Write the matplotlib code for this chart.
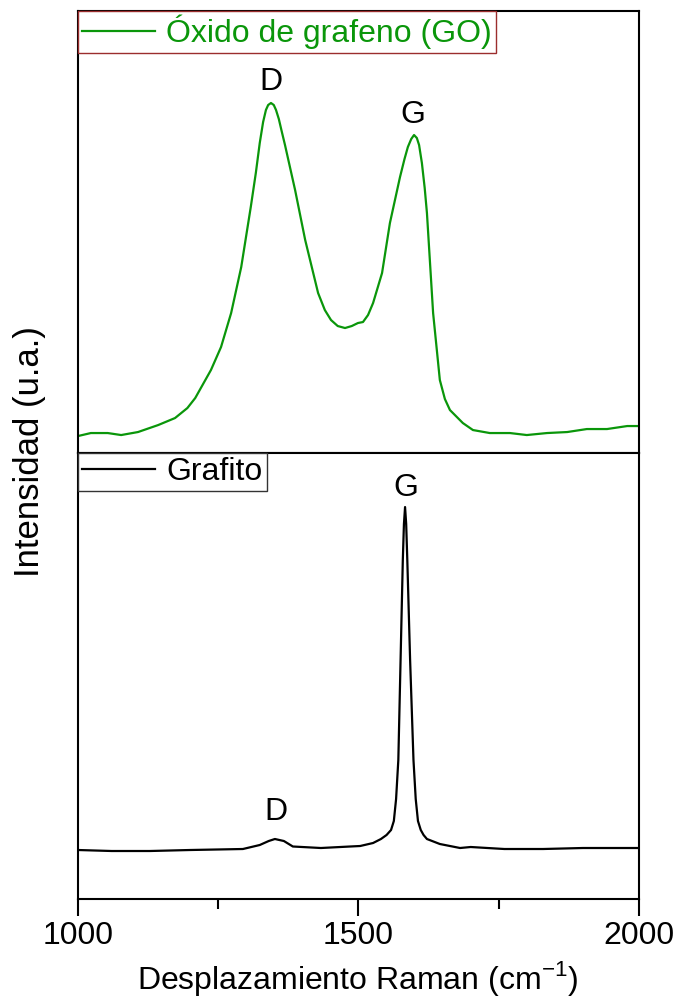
import matplotlib
matplotlib.use("Agg")
import matplotlib.pyplot as plt
from matplotlib.ticker import MultipleLocator

plt.rcParams['font.family'] = ['Liberation Sans', 'DejaVu Sans']

# Raman spectrum of graphene oxide
go_shift = [1000, 1023, 1053, 1077, 1107, 1143, 1173, 1195, 1209, 1237, 1255,
            1273, 1291, 1308, 1317, 1324, 1330, 1335, 1339, 1344, 1349, 1353,
            1358, 1363, 1369, 1387, 1405, 1428, 1440, 1451, 1463, 1476, 1488,
            1499, 1508, 1517, 1526, 1542, 1556, 1574, 1582, 1588, 1594, 1599,
            1604, 1608, 1613, 1618, 1622, 1633, 1645, 1654, 1663, 1686, 1704,
            1734, 1770, 1800, 1836, 1872, 1907, 1943, 1979, 2000]
go_int = [17, 20, 20, 18, 21, 28, 35, 45, 55, 83, 106,
          140, 186, 246, 280, 310, 331, 343, 348, 350, 348, 343,
          334, 322, 308, 263, 213, 160, 143, 133, 127, 125, 127,
          130, 131, 138, 150, 180, 230, 276, 294, 306, 314, 318,
          315, 308, 290, 265, 240, 140, 73, 54, 43, 30, 23,
          20, 20, 18, 20, 21, 24, 24, 27, 27]

# Raman spectrum of graphite
gr_shift = [1000, 1060, 1128, 1200, 1294, 1324, 1340, 1351, 1367, 1383, 1433,
            1485, 1503, 1526, 1540, 1550, 1558, 1563, 1567, 1571, 1575, 1579,
            1581, 1583, 1585, 1587, 1592, 1598, 1602, 1606, 1611, 1616, 1622,
            1645, 1681, 1700, 1760, 1829, 1900, 2000]
gr_int = [49, 48, 48, 49, 50, 54, 58, 60, 58, 52.5, 51,
          52.5, 53, 56, 60, 64, 69, 78, 100, 139, 239, 339,
          375, 392, 375, 339, 239, 139, 100, 78, 69, 64, 60,
          55, 51, 52, 50, 50, 51, 51]

go_color = '#0a960a'

fig = plt.figure(figsize=(6.78, 9.99), dpi=100)
ax1 = fig.add_axes([0.115, 0.5465, 0.8275, 0.4425])
ax2 = fig.add_axes([0.115, 0.1001, 0.8275, 0.4464], sharex=ax1)

ax1.plot(go_shift, go_int, color=go_color, lw=1.6, label='Óxido de grafeno (GO)')
ax2.plot(gr_shift, gr_int, color='black', lw=1.6, label='Grafito')

ax1.set_xlim(1000, 2000)
ax1.set_ylim(0, 442)
ax2.set_ylim(0, 446)

fs = 23
ax1.text(1344, 371, 'D', fontsize=fs, ha='center', va='center')
ax1.text(1597, 338, 'G', fontsize=fs, ha='center', va='center')
ax2.text(1585, 411, 'G', fontsize=fs, ha='center', va='center')
ax2.text(1353, 87, 'D', fontsize=fs, ha='center', va='center')

for ax in (ax1, ax2):
    for sp in ax.spines.values():
        sp.set_linewidth(1.5)
    ax.set_yticks([])

ax1.tick_params(axis='x', which='both', bottom=False, labelbottom=False)
ax2.xaxis.set_major_locator(MultipleLocator(500))
ax2.xaxis.set_minor_locator(MultipleLocator(250))
ax2.tick_params(axis='x', which='major', direction='out', length=12, width=1.5,
                labelsize=fs, pad=4)
ax2.tick_params(axis='x', which='minor', direction='out', length=7, width=1.5)

leg1 = ax1.legend(loc='upper left', fontsize=23, frameon=True, fancybox=False,
                  borderaxespad=0, borderpad=0.12, handlelength=2.3,
                  handletextpad=0.35, framealpha=1)
leg1.get_frame().set_edgecolor('#9b2d2d')
leg1.get_frame().set_linewidth(1.0)
for t in leg1.get_texts():
    t.set_color(go_color)

leg2 = ax2.legend(loc='upper left', fontsize=23, frameon=True, fancybox=False,
                  borderaxespad=0, borderpad=0.12, handlelength=2.3,
                  handletextpad=0.35, framealpha=1)
leg2.get_frame().set_edgecolor('#333333')
leg2.get_frame().set_linewidth(1.0)

fig.text(0.044, 0.548, 'Intensidad (u.a.)', rotation=90, fontsize=25,
         ha='center', va='center')
fig.text(0.527, 0.021, r'Desplazamiento Raman (cm$^{\mathregular{-1}}$)',
         fontsize=fs, ha='center', va='center')

fig.savefig('out.png', dpi=100)
